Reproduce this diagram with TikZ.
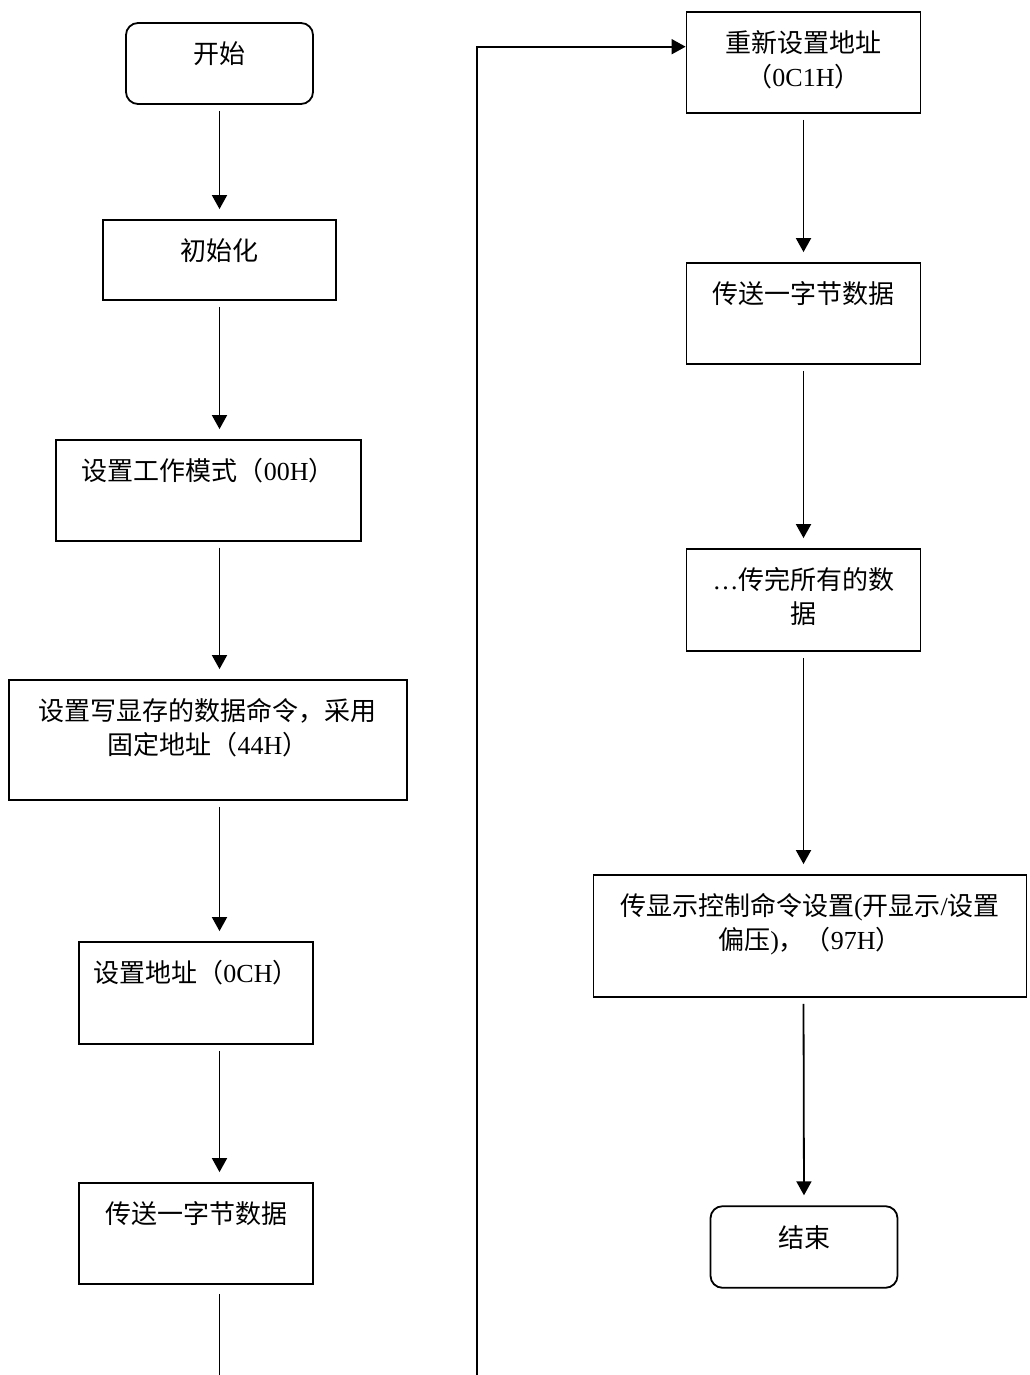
\documentclass[tikz,border=0pt]{standalone}
\usepackage{fontspec}
\setmainfont{Liberation Serif}
\newfontfamily\cjk{Noto Sans CJK SC}
\usetikzlibrary{arrows.meta}

% text of a box, set at its top
\newcommand\flowtext[3]{\parbox[c][#2][t]{#1}{\centering
  \fontsize{13pt}{16.75pt}\selectfont\rule{0pt}{20.4pt}#3}}

\tikzset{
  stepbox/.style={draw, line width=0.9pt, inner sep=0pt},
  termbox/.style={stepbox, rounded corners=6pt},
  flowline/.style={line width=0.9pt, shorten <=3pt},
  flow/.style={flowline, -{Triangle[length=7pt,width=7.5pt]}, shorten >=5pt},
}

\begin{document}
\begin{tikzpicture}[x=0.5pt, y=-0.5pt]
  \useasboundingbox (0,0) rectangle (1029,1375);
  \def\Xl{219.5};
  \def\Xr{803.5};
  \def\Xloop{477}; % way back up
  \def\Yloop{46.7};

        % left column
        \node[termbox] (start) at (\Xl, 63.5)
          {\flowtext{93.5pt}{40.5pt}{\cjk 开始}};
        \node[stepbox] (init) at (\Xl, 260)
          {\flowtext{116.5pt}{40pt}{\cjk 初始化}};
        \node[stepbox] (mode) at (208.3, 490.3)
          {\flowtext{152.3pt}{50.3pt}{{\cjk 设置工作模式（}00H{\cjk ）}}};
        \node[stepbox] (cmd) at (208, 740)
          {\flowtext{199pt}{60pt}{{\cjk 设置写显存的数据命令，采用}\\{\cjk 固定地址（}44H{\cjk ）}}};
        \node[stepbox] (addr) at (196, 993)
          {\flowtext{117pt}{51pt}{{\cjk 设置地址（}0CH{\cjk ）}}};
        \node[stepbox] (sendL) at (196, 1233.5)
          {\flowtext{117pt}{50.5pt}{\cjk 传送一字节数据}};

        % right column
        \node[stepbox] (reset) at (\Xr, 62.5)
          {\flowtext{117pt}{50.5pt}{{\cjk 重新设置地址}\\{\cjk （}0C1H{\cjk ）}}};
        \node[stepbox] (sendR) at (\Xr, 313.5)
          {\flowtext{117pt}{50.5pt}{\cjk 传送一字节数据}};
        \node[stepbox] (rest) at (\Xr, 600)
          {\flowtext{117pt}{51pt}{…{\cjk 传完所有的数}\\{\cjk 据}}};
        \node[stepbox] (disp) at (810, 936)
          {\flowtext{216.5pt}{61pt}{{\cjk 传显示控制命令设置}({\cjk 开显示}/{\cjk 设置}\\{\cjk 偏压}){\cjk ，（}97H{\cjk ）}}};
        \node[termbox] (stop) at (804, 1247)
          {\flowtext{93.5pt}{40.8pt}{\cjk 结束}};

        % ends cut by the page
        \coordinate (outL) at (\Xl, 1375);
        \coordinate (outR) at (\Xloop, 1375);
        \coordinate (turn) at (\Xloop, \Yloop);

	% arrows, left
	\draw[flow] (start.south) -- (init.north);
	\draw[flow] (init.south) -- (init.south |- mode.north);
	\draw[flow] (init.south |- mode.south) -- (init.south |- cmd.north);
	\draw[flow] (init.south |- cmd.south) -- (init.south |- addr.north);
	\draw[flow] (init.south |- addr.south) -- (init.south |- sendL.north);
	\draw[flowline, shorten <=4.5pt] (init.south |- sendL.south) -- (outL);

	% arrows, right
	\draw[flow, shorten <=0pt, shorten >=0pt] (outR) -- (turn) -- (turn -| reset.west);
	\draw[flow] (reset.south) -- (sendR.north);
	\draw[flow] (sendR.south) -- (rest.north);
	\draw[flow] (rest.south) -- (rest.south |- disp.north);
	\draw[flow] (rest.south |- disp.south) -- (stop.north);
\end{tikzpicture}
\end{document}
